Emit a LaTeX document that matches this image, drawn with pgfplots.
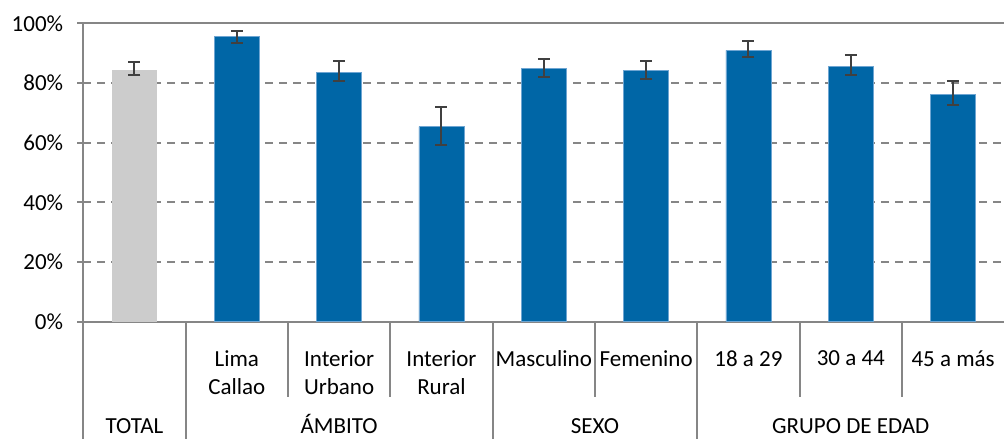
\documentclass[border=0pt]{standalone}
\usepackage{pgfplots}
\pgfplotsset{compat=1.18}
\usepackage{fontspec}
\setmainfont{Carlito}

\definecolor{barblue}{RGB}{0,102,166}
\definecolor{baredge}{RGB}{110,165,210}
\definecolor{totalgray}{RGB}{204,204,204}
\definecolor{gridgray}{RGB}{134,134,134}
\definecolor{errgray}{RGB}{64,64,64}

\begin{document}
\fontsize{23}{27.5}\selectfont
\begin{tikzpicture}
\begin{axis}[
    scale only axis,
    width=921pt, height=298.4pt,
    xmin=-0.5, xmax=8.5,
    ymin=0, ymax=100,
    clip=false,
    axis lines=left,
    axis line style={draw=gridgray, line width=2pt, -},
    ytick={0,20,40,60,80,100},
    yticklabel={\pgfmathprintnumber[assume math mode=true]{\tick}\%},
    yticklabel style={inner sep=0pt, xshift=-14pt},
    tick align=outside,
    major tick length=6pt,
    ytick style={draw=gridgray, line width=2pt},
    xtick={0,1,2,3,4,5,6,7,8},
    xtick style={draw=none},
    xticklabels={{},{Lima\\Callao},{Interior\\Urbano},{Interior\\Rural},Masculino,Femenino,18 a 29,30 a 44,45 a más},
    xticklabel style={anchor=north, align=center, inner sep=0pt, yshift=-23pt},
    ymajorgrids,
    grid style={draw=gridgray, line width=2pt, dash pattern=on 8pt off 6pt},
    error bars/error bar style={draw=errgray, line width=2pt},
    error bars/error mark options={rotate=90, mark size=6pt, draw=errgray, line width=2pt},
]
% TOTAL
\addplot[ybar, bar width=45pt, bar shift=0pt, fill=totalgray, draw=none,
    error bars/.cd, y dir=both, y explicit]
  coordinates {(0,84.3) += (0,2.6) -= (0,1.7)};
% categories
\addplot[ybar, bar width=45pt, bar shift=0pt, fill=barblue, draw=baredge, line width=0.8pt,
    error bars/.cd, y dir=both, y explicit]
  coordinates {
    (1,95.7) += (0,1.7) -= (0,2.4)
    (2,83.6) += (0,3.7) -= (0,2.9)
    (3,65.4) += (0,6.5) -= (0,6.3)
    (4,84.8) += (0,3.2) -= (0,2.9)
    (5,84.2) += (0,3.1) -= (0,3.0)
    (6,90.9) += (0,3.1) -= (0,2.2)
    (7,85.5) += (0,3.8) -= (0,2.9)
    (8,76.1) += (0,4.6) -= (0,3.6)
  };
% top border line
\draw[gridgray, line width=2pt] (axis cs:-0.5,100) -- (axis cs:8.5,100);
% separators of the category axis
\pgfplotsinvokeforeach{-0.5,0.5,3.5,5.5}{
  \draw[gridgray, line width=2pt] (axis cs:#1,0) -- ([yshift=-120pt]axis cs:#1,0);
}
\pgfplotsinvokeforeach{1.5,2.5,4.5,6.5,7.5}{
  \draw[gridgray, line width=2pt] (axis cs:#1,0) -- ([yshift=-75pt]axis cs:#1,0);
}
% group labels
\node[anchor=base, yshift=-112pt] at (axis cs:0,0) {TOTAL};
\node[anchor=base, yshift=-112pt] at (axis cs:2,0) {ÁMBITO};
\node[anchor=base, yshift=-112pt] at (axis cs:4.5,0) {SEXO};
\node[anchor=base, yshift=-112pt] at (axis cs:7,0) {GRUPO DE EDAD};
\end{axis}
\pgfresetboundingbox
\path[use as bounding box] (-83.3pt,-117.3pt) rectangle (921.7pt,321.7pt);
\end{tikzpicture}
\end{document}
